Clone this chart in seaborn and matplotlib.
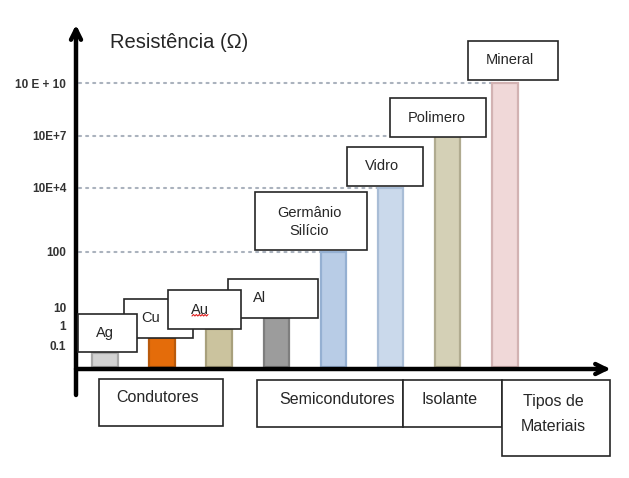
import numpy as np
import matplotlib
matplotlib.use("Agg")
import matplotlib.pyplot as plt
import seaborn as sns
from matplotlib.patches import Rectangle

# ---------------- data ----------------
materials = ["Ag", "Cu", "Au", "Al", "Germânio\nSilício", "Vidro", "Polimero", "Mineral"]
resistance = [0.045, 0.22, 0.63, 2.6, 100, 1e4, 1e7, 1e10]
tick_values = [0.1, 1, 10, 100, 1e4, 1e7, 1e10]
tick_labels = ["0.1", "1", "10", "100", "10E+4", "10E+7", "10 E + 10"]
group_labels = ["Condutores", "Semicondutores", "Isolante", "Tipos de\nMateriais"]
y_title = "Resistência (Ω)"

# ---------------- style ----------------
bar_colors = ["#d2d2d2", "#e46c0a", "#cbc39e", "#9c9c9c",
              "#b8cce6", "#cad9eb", "#d4d0b6", "#f0d8d8"]
edge_colors = ["#a8a8a8", "#b95a0c", "#a8a07c", "#7e7e7e",
               "#95b0d2", "#a9bdd6", "#b0ab90", "#d2b2b2"]

# non-uniform axis of the original drawing: log10(value) -> height (px)
scale_logs = [-2, -1, 0, 1, 2, 4, 7, 10, 13]
scale_heights = [0, 22, 42, 59, 115, 179, 231, 284, 337]


def fwd(v):
    v = np.asarray(v, dtype=float)
    return np.interp(np.log10(np.clip(v, 1e-12, None)), scale_logs, scale_heights)


def inv(h):
    h = np.asarray(h, dtype=float)
    return 10.0 ** np.interp(h, scale_heights, scale_logs)


sns.set_style("white")
plt.rcParams["font.family"] = ["Liberation Sans", "DejaVu Sans"]

W, H = 629, 478
fig = plt.figure(figsize=(W / 100, H / 100), dpi=100)


def fx(x):
    return x / W


def fy(y):
    return 1 - y / H


ax = fig.add_axes([fx(76), fy(367), (612 - 76) / W, 337 / H])
ax.set_yscale("function", functions=(fwd, inv))

sns.barplot(x=list(range(len(materials))), y=resistance, hue=list(range(len(materials))),
            palette=bar_colors, legend=False, width=0.45, saturation=1, ax=ax, zorder=2)
for p, ec in zip(ax.patches, edge_colors):
    p.set_edgecolor(ec)
    p.set_linewidth(1.6)

ax.set_ylim(0.01, 1e13)
ax.set_xlim(-0.51, 8.88)
for s in ax.spines.values():
    s.set_visible(False)
ax.set_xticks([])
ax.set_yticks(tick_values, tick_labels)
ax.tick_params(axis="y", length=0, pad=7, labelsize=8.5, labelcolor="#333333")
for t in ax.get_yticklabels():
    t.set_fontweight("bold")
ax.set_xlabel("")
ax.set_ylabel("")

# dotted guide lines up to the bar of each level
guide_end = {100: 4, 1e4: 5, 1e7: 6, 1e10: 7}
for val, idx in guide_end.items():
    ax.plot([-0.45, idx], [val, val], color="#aab2bd", lw=1.5,
            linestyle=(0, (1, 2.4)), zorder=1, solid_capstyle="round",
            dash_capstyle="round")

# axis arrows
fig.add_artist(plt.Line2D([fx(76), fx(76)], [fy(395), fy(30)], color="black",
                          lw=3.2, transform=fig.transFigure))
fig.add_artist(plt.Line2D([fx(76), fx(606)], [fy(369), fy(369)], color="black",
                          lw=3.2, transform=fig.transFigure))
ax.annotate("", xy=(fx(76), fy(22)), xytext=(fx(76), fy(40)), xycoords="figure fraction",
            arrowprops=dict(arrowstyle="->", lw=3.2, color="black", mutation_scale=18))
ax.annotate("", xy=(fx(613), fy(369)), xytext=(fx(595), fy(369)), xycoords="figure fraction",
            arrowprops=dict(arrowstyle="->", lw=3.2, color="black", mutation_scale=18))

fig.text(fx(110), fy(43), y_title, fontsize=14.5, color="#262626", va="center", ha="left")


def box(x0, y0, x1, y1, text, tx, ty, fs, z, ls=1.2):
    fig.add_artist(Rectangle((fx(x0), fy(y1)), (x1 - x0) / W, (y1 - y0) / H,
                             transform=fig.transFigure, facecolor="white",
                             edgecolor="#262626", lw=1.2, zorder=z))
    fig.text(fx(tx), fy(ty), text, fontsize=fs, color="#262626", ha="center",
             va="center", zorder=z + 0.5, linespacing=ls)


# material label boxes
box(228, 279, 318, 318, materials[3], 260, 298, 10.5, 5)
box(124, 299, 193, 338, materials[1], 151, 318, 10.5, 6)
box(168, 290, 241, 329, materials[2], 200, 310, 10.5, 7)
box(78, 314, 137, 352, materials[0], 105, 333, 10.5, 8)
box(255, 192, 367, 250, materials[4], 309, 222, 10.5, 5, ls=1.45)
box(347, 147, 423, 186, materials[5], 382, 166, 10.5, 5)
box(390, 98, 486, 137, materials[6], 437, 118, 10.5, 5)
box(468, 41, 558, 80, materials[7], 510, 60, 10.5, 5)

# spell-check squiggle under "Au"
sx = np.linspace(fx(192), fx(208), 12)
sy = fy(316) + np.where(np.arange(12) % 2 == 0, 0, 1.5 / H)
fig.add_artist(plt.Line2D(sx, sy, color="#e02020", lw=0.8, transform=fig.transFigure, zorder=9))

# group boxes
box(99, 379, 223, 426, group_labels[0], 158, 398, 11.5, 5)
box(257, 380, 403, 427, group_labels[1], 337, 400, 11.5, 5)
box(403, 380, 502, 427, group_labels[2], 450, 400, 11.5, 5)
box(502, 380, 610, 456, group_labels[3], 553, 414, 11.5, 5, ls=1.9)

fig.savefig("out.png", dpi=100)
